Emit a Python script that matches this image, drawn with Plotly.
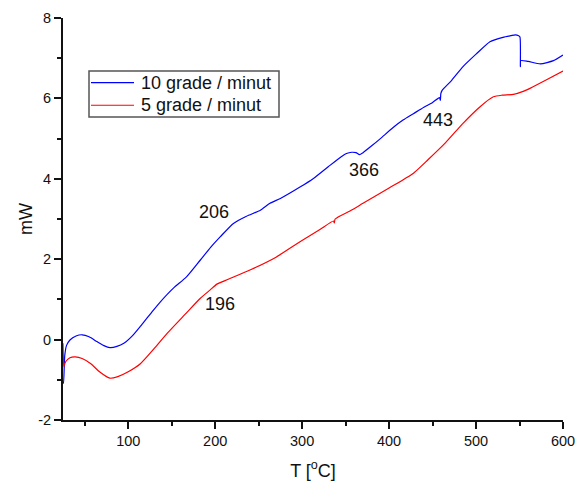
import plotly.graph_objects as go

# 10 grade / minut (blue)
t_blue = [25, 25.6, 27, 29, 33, 40, 47, 55, 64, 72, 79, 87, 95, 105, 117, 127, 137, 152, 167, 183,
          195, 206, 221, 236, 252, 263, 275, 298, 313, 330, 345, 351, 357, 362, 366, 370, 380, 390,
          405, 416, 428, 440, 450, 458, 459, 459.5, 461, 472, 485, 500, 516, 531, 540, 545, 549,
          550.5, 551, 551.5, 560, 574, 589, 600]
mw_blue = [-1.05, -1.09, -0.4, -0.15, -0.01, 0.09, 0.12, 0.07, -0.05, -0.15, -0.2, -0.17, -0.09, 0.1,
           0.41, 0.68, 0.94, 1.28, 1.56, 1.98, 2.3, 2.56, 2.89, 3.07, 3.22, 3.39, 3.51, 3.80, 4.01,
           4.3, 4.55, 4.63, 4.66, 4.65, 4.60, 4.65, 4.82, 5.0, 5.28, 5.46, 5.62, 5.78, 5.9, 6.02,
           5.95, 6.12, 6.2, 6.45, 6.79, 7.1, 7.41, 7.52, 7.56, 7.58, 7.56, 7.53, 6.79, 6.94, 6.92,
           6.86, 6.94, 7.08]

# 5 grade / minut (red)
t_red = [25, 25.5, 26, 28, 33, 39, 47, 57, 67, 79, 88, 100, 114, 130, 145, 165, 183, 194, 202, 215,
         240, 270, 298, 320, 336, 337, 338, 355, 370, 400, 428, 445, 465, 485, 505, 520, 530, 543,
         555, 562, 580, 600]
mw_red = [-0.09, -0.5, -0.67, -0.55, -0.45, -0.43, -0.47, -0.6, -0.8, -0.96, -0.92, -0.8, -0.6, -0.22,
          0.16, 0.62, 1.03, 1.23, 1.38, 1.5, 1.73, 2.05, 2.44, 2.73, 2.95, 2.90, 3.0, 3.2, 3.39, 3.77,
          4.14, 4.48, 4.9, 5.38, 5.8, 6.04, 6.08, 6.10, 6.18, 6.25, 6.45, 6.68]

series_names = ["10 grade / minut", "5 grade / minut"]
series_colors = ["#0000ff", "#ff0000"]

labels = ["206", "196", "366", "443"]
label_t = [199, 205, 371, 456]
label_mw = [3.17, 0.89, 4.22, 5.46]

x_ticks = [100, 200, 300, 400, 500, 600]
y_ticks = [-2, 0, 2, 4, 6, 8]
y_ticktext = ["-2", "0", "2", "4", "6", "8"]

font_family = "Liberation Sans, Arial, sans-serif"

fig = go.Figure()
for name, color, xs, ys in zip(series_names, series_colors, [t_blue, t_red], [mw_blue, mw_red]):
    fig.add_trace(go.Scatter(x=xs, y=ys, mode="lines", name=name, showlegend=False,
                             line=dict(color=color, width=1.2, shape="spline", smoothing=0.6)))

for txt, tx, ty in zip(labels, label_t, label_mw):
    fig.add_annotation(x=tx, y=ty, text=txt, showarrow=False,
                       font=dict(size=18, color="#111111", family=font_family))

# legend box drawn in paper coordinates
fig.add_shape(type="rect", xref="paper", yref="paper", x0=0.052, x1=0.432, y0=0.754, y1=0.868,
              line=dict(color="#555555", width=1.5), fillcolor="white", layer="below")
legend_rows = [0.839, 0.783]
for name, color, ry in zip(series_names, series_colors, legend_rows):
    fig.add_shape(type="line", xref="paper", yref="paper", x0=0.056, x1=0.142, y0=ry, y1=ry,
                  line=dict(color=color, width=1.2))
    fig.add_annotation(xref="paper", yref="paper", x=0.152, y=ry, text=name, showarrow=False,
                       xanchor="left", yanchor="middle",
                       font=dict(size=18, color="#111111", family=font_family))

fig.update_layout(
    width=579, height=488,
    margin=dict(l=63, r=16, t=18, b=68, autoexpand=False),
    paper_bgcolor="white", plot_bgcolor="white",
    font=dict(family=font_family, color="#111111"),
    showlegend=False,
)
fig.update_xaxes(range=[25, 600], tickvals=x_ticks, automargin=False,
                 showline=True, linecolor="#111111", linewidth=2,
                 ticks="outside", ticklen=7, tickwidth=1.5, tickcolor="#111111",
                 minor=dict(tickvals=[50, 150, 250, 350, 450, 550], ticks="outside",
                            ticklen=4, tickwidth=1.5, tickcolor="#111111"),
                 showgrid=False, zeroline=False,
                 tickfont=dict(size=14.5),
                 title=dict(text="T [<sup>o</sup>C]", font=dict(size=18), standoff=16))
fig.update_yaxes(range=[-2, 8], tickvals=y_ticks, ticktext=y_ticktext, automargin=False,
                 showline=True, linecolor="#111111", linewidth=2,
                 ticks="outside", ticklen=7, tickwidth=1.5, tickcolor="#111111",
                 minor=dict(tickvals=[-1, 1, 3, 5, 7], ticks="outside",
                            ticklen=4, tickwidth=1.5, tickcolor="#111111"),
                 showgrid=False, zeroline=False,
                 tickfont=dict(size=14.5),
                 title=dict(text="mW", font=dict(size=18), standoff=1))

fig.write_html("out.html")
